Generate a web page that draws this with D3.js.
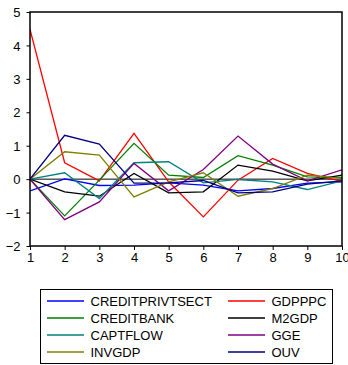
<!DOCTYPE html>
<html>
<head>
<meta charset="utf-8">
<script src="https://cdn.jsdelivr.net/npm/d3@7"></script>
<style>
  html, body { margin: 0; padding: 0; background: #fff; }
  svg { display: block; font-family: "Liberation Sans", Arial, sans-serif; }
</style>
</head>
<body>
<svg id="chart" width="348" height="365"></svg>
<script>
// Periods on the horizontal axis
const periods = [1, 2, 3, 4, 5, 6, 7, 8, 9, 10];
const yTicks = [-2, -1, 0, 1, 2, 3, 4, 5];

// Response values per variable
const creditPrivtSect = [-0.35, 0.01, -0.19, -0.18, -0.11, -0.18, -0.35, -0.28, -0.12, -0.08];
const gdpppc          = [4.48, 0.49, -0.05, 1.37, -0.08, -1.13, -0.03, 0.62, 0.17, -0.07];
const creditBank      = [0, -1.10, -0.03, 1.07, 0.12, 0.05, 0.70, 0.42, 0.07, 0.05];
const m2gdp           = [0, -0.38, -0.51, 0.17, -0.41, -0.38, 0.42, 0.24, -0.05, 0.12];
const captFlow        = [0, 0.19, -0.58, 0.49, 0.52, -0.11, -0.01, -0.08, -0.31, -0.05];
const gge             = [0, -1.21, -0.68, 0.47, -0.35, 0.29, 1.29, 0.45, -0.05, 0.28];
const invgdp          = [0, 0.82, 0.72, -0.53, -0.08, 0.19, -0.51, -0.28, 0.12, 0.02];
const ouv             = [0, 1.31, 1.05, -0.12, -0.11, -0.04, -0.41, -0.38, -0.15, -0.05];

const seriesNames = ["CREDITPRIVTSECT", "GDPPPC", "CREDITBANK", "M2GDP", "CAPTFLOW", "GGE", "INVGDP", "OUV"];
const seriesValues = [creditPrivtSect, gdpppc, creditBank, m2gdp, captFlow, gge, invgdp, ouv];
const seriesColors = ["#0000ff", "#ff0000", "#008000", "#000000", "#008080", "#800080", "#808000", "#000080"];

const svg = d3.select("#chart");
const plot = { left: 30, right: 342, top: 12, bottom: 246 };

const x = d3.scaleLinear().domain([1, 10]).range([plot.left, plot.right]);
const y = d3.scaleLinear().domain([-2, 5]).range([plot.bottom, plot.top]);

// zero reference line
svg.append("line")
  .attr("x1", plot.left).attr("x2", plot.right)
  .attr("y1", y(0)).attr("y2", y(0))
  .attr("stroke", "#000").attr("stroke-width", 1);

// series lines
const line = d3.line().x((d, i) => x(periods[i])).y(d => y(d));
svg.append("clipPath").attr("id", "plotclip")
  .append("rect").attr("x", plot.left).attr("y", plot.top)
  .attr("width", plot.right - plot.left).attr("height", plot.bottom - plot.top);

const lines = svg.append("g").attr("clip-path", "url(#plotclip)");
seriesValues.forEach((vals, k) => {
  lines.append("path")
    .datum(vals)
    .attr("d", line)
    .attr("fill", "none")
    .attr("stroke", seriesColors[k])
    .attr("stroke-width", 1.3)
    .attr("stroke-linejoin", "miter");
});

// frame
svg.append("rect")
  .attr("x", plot.left).attr("y", plot.top)
  .attr("width", plot.right - plot.left).attr("height", plot.bottom - plot.top)
  .attr("fill", "none").attr("stroke", "#000").attr("stroke-width", 1.5);

// axes
const yAxis = svg.append("g")
  .attr("transform", `translate(${plot.left},0)`)
  .call(d3.axisLeft(y).tickValues(yTicks).tickFormat(d3.format("d")).tickSize(3.5).tickPadding(6));
const xAxis = svg.append("g")
  .attr("transform", `translate(0,${plot.bottom})`)
  .call(d3.axisBottom(x).tickValues(periods).tickFormat(d3.format("d")).tickSize(4).tickPadding(3));

[yAxis, xAxis].forEach(g => {
  g.select(".domain").remove();
  g.selectAll(".tick line").attr("stroke", "#000").attr("stroke-width", 1);
  g.selectAll("text")
    .attr("fill", "#000")
    .style("font-family", "'Liberation Sans', Arial, sans-serif")
    .style("font-size", "13px");
});
yAxis.selectAll("text").attr("dy", "0.36em");

// legend
const legend = svg.append("g");
legend.append("rect")
  .attr("x", 40.5).attr("y", 289.5).attr("width", 292).attr("height", 74)
  .attr("fill", "#fff").attr("stroke", "#000").attr("stroke-width", 1);

seriesNames.forEach((name, k) => {
  const col = k % 2, row = Math.floor(k / 2);
  const lx = col === 0 ? 47 : 228;
  const ly = 301 + row * 17;
  legend.append("line")
    .attr("x1", lx).attr("x2", lx + 37)
    .attr("y1", ly).attr("y2", ly)
    .attr("stroke", seriesColors[k]).attr("stroke-width", 1.3);
  legend.append("text")
    .attr("x", lx + 43.5).attr("y", ly)
    .attr("dy", "0.36em")
    .style("font-size", "13px")
    .attr("fill", "#000")
    .text(name);
});
</script>
</body>
</html>
